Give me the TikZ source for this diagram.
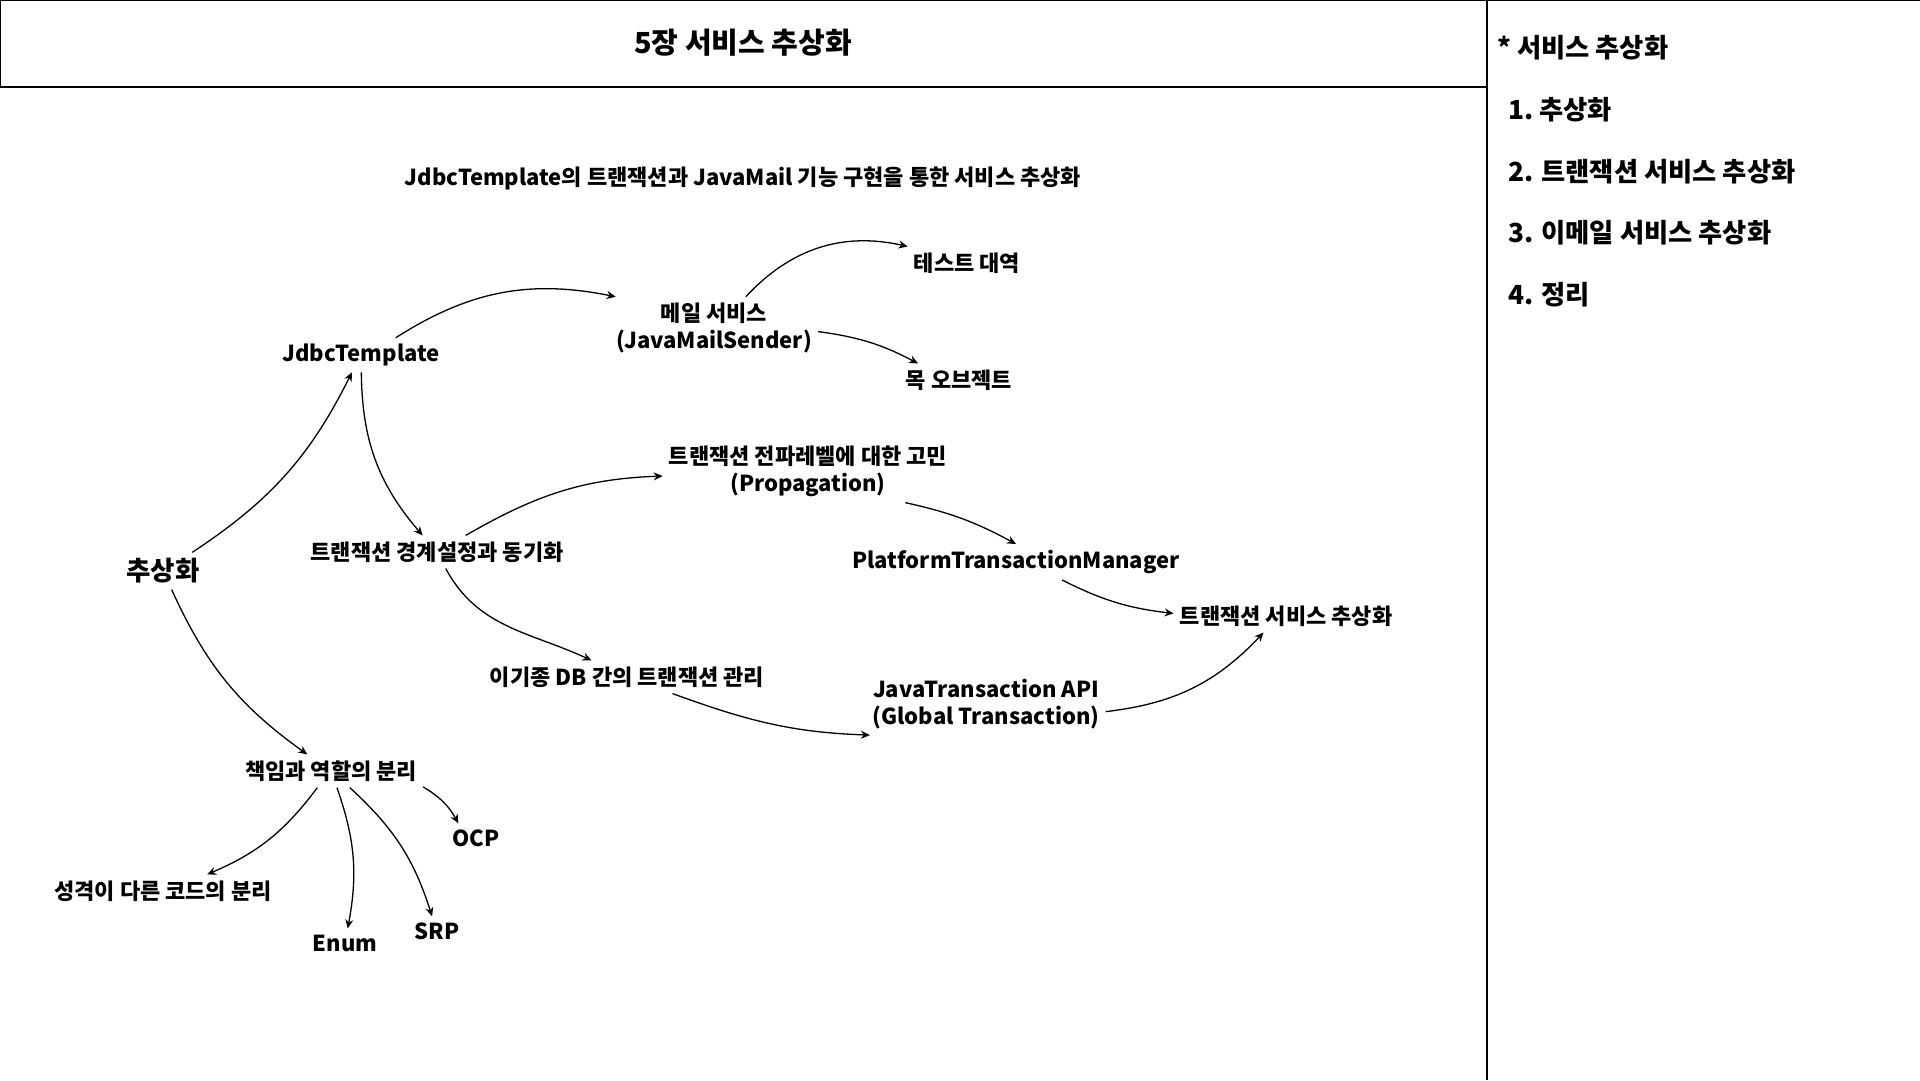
\documentclass[tikz,border=0pt]{standalone}
\usepackage{fontspec}
\setmainfont{Noto Sans CJK KR}
\usetikzlibrary{arrows.meta}

\begin{document}
\begin{tikzpicture}[x=1pt,y=-1pt]
      \useasboundingbox (0,0) rectangle (1920,1080);
      \fill[white] (0,0) rectangle (1920,1080);
      % frames
      \draw[line width=1.2pt] (0.6,0.6) rectangle (1487,87);
      \draw[line width=1.2pt] (1487,0.6) -- (1920,0.6);
      \draw[line width=1.2pt] (1487,0) -- (1487,1080);
      \begin{scope}[every node/.style={font=\bfseries\fontsize{22}{27}\selectfont,inner sep=6pt,align=center}]
        \node[font=\bfseries\fontsize{29}{34}\selectfont] (title) at (743,43) {5장 서비스 추상화};
        \node (sub) at (743,178) {JdbcTemplate의 트랜잭션과 JavaMail 기능 구현을 통한 서비스 추상화};
        \node[font=\bfseries\fontsize{26.5}{31}\selectfont] (abs) at (163,571) {추상화};
        \node (jdbc) at (361,355) {JdbcTemplate};
        \node (mail) at (714,328) {메일 서비스\\(JavaMailSender)};
        \node (test) at (967,263) {테스트 대역};
        \node (mock) at (959,380) {목 오브젝트};
        \node (prop) at (808,471) {트랜잭션 전파레벨에 대한 고민\\(Propagation)};
        \node (bound) at (437,552) {트랜잭션 경계설정과 동기화};
        \node (ptm) at (1016,562) {PlatformTransactionManager};
        \node (txsvc) at (1286,616) {트랜잭션 서비스 추상화};
        \node (hetero) at (627,677) {이기종 DB 간의 트랜잭션 관리};
        \node (jta) at (986,704) {JavaTransaction API\\(Global Transaction)};
        \node (resp) at (331,771) {책임과 역할의 분리};
        \node (ocp) at (476,838) {OCP};
        \node (codesep) at (163,891) {성격이 다른 코드의 분리};
        \node (enum) at (345,943) {Enum};
        \node (srp) at (437,931) {SRP};
      \end{scope}
      \begin{scope}[every node/.style={font=\bfseries\fontsize{26.3}{31}\selectfont,inner sep=0pt,anchor=west}]
        \node (toc) at (1497,48) {* 서비스 추상화};
        \node (toc1) at (1508,110) {1.\ 추상화};
        \node (toc2) at (1508,172) {2. 트랜잭션 서비스 추상화};
        \node (toc3) at (1508,233) {3. 이메일 서비스 추상화};
        \node (toc4) at (1508,295) {4. 정리};
      \end{scope}
      \begin{scope}[every edge/.style={draw,line width=1.3pt,-{Stealth[length=9pt,width=8pt]}}]
        \path (abs) edge[bend right=15] (jdbc);
        \path (jdbc) edge[bend right=20] (bound);
        \path (jdbc) edge[bend left=22] (mail);
        \path (mail) edge[bend left=30] (test);
        \path (mail) edge[bend left=10] (mock);
        \path (bound) edge[out=30,in=182] (prop);
        \path (prop.-18) edge[bend left=8] (ptm.north);
        \path (bound) edge[out=-62,in=155] (hetero);
        \path (hetero) edge[out=-20,in=178] (jta.195);
        \path (ptm) edge[bend right=10] (txsvc);
        \path (jta) edge[bend right=20] (txsvc);
        \path (abs) edge[bend right=15] (resp);
        \path (resp) edge[bend left=15] (codesep);
        \path (resp) edge[bend left=15] (enum);
        \path (resp) edge[bend left=15] (srp);
        \path (resp) edge[bend left=15] (ocp);
      \end{scope}
    \end{tikzpicture}
\end{document}
